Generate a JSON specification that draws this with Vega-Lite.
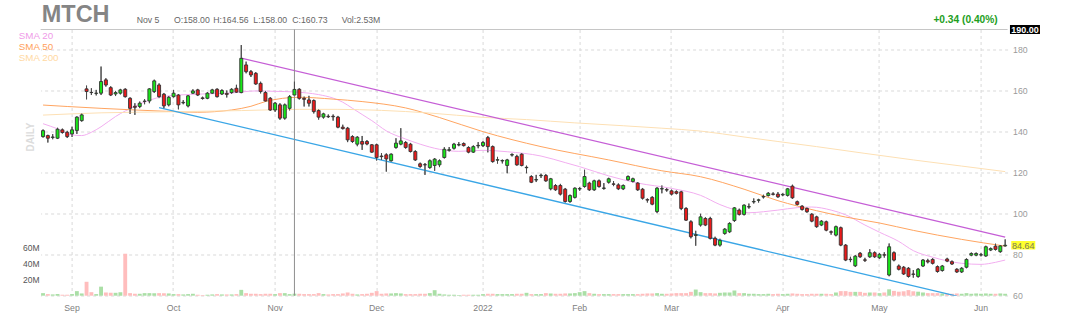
{
  "$schema": "https://vega.github.io/schema/vega-lite/v6.json",
  "autosize": {"type": "none"},
  "padding": {"left": 40.6, "top": 29.5, "right": 72, "bottom": 29},
  "width": 967,
  "height": 266.2,
  "background": "#ffffff",
  "config": {"view": {"stroke": null}, "font": "Liberation Sans", "axis": {"labelOverlap": false}},
  "datasets": {
    "ohlc": [
      {"d":"2021-08-24","o":137.7,"h":141.2,"l":137.2,"c":140.6,"v":3.2},
      {"d":"2021-08-25","o":138.2,"h":138.6,"l":134.8,"c":136.9,"v":2},
      {"d":"2021-08-26","o":137.3,"h":138.9,"l":136.4,"c":137.5,"v":1.6},
      {"d":"2021-08-27","o":136.9,"h":142,"l":136.5,"c":141.3,"v":2},
      {"d":"2021-08-30","o":141,"h":141.6,"l":139.2,"c":139.7,"v":1.2},
      {"d":"2021-08-31","o":139.8,"h":140.5,"l":137,"c":137.7,"v":1.2},
      {"d":"2021-09-01","o":139,"h":142.5,"l":137.5,"c":141,"v":2},
      {"d":"2021-09-02","o":140.7,"h":147.6,"l":139,"c":147.2,"v":5.7},
      {"d":"2021-09-03","o":145.5,"h":149,"l":145,"c":148.3,"v":2.8},
      {"d":"2021-09-07","o":161,"h":162.6,"l":155.9,"c":159.7,"v":17.4},
      {"d":"2021-09-08","o":159.3,"h":161.3,"l":158,"c":159.2,"v":4.4},
      {"d":"2021-09-09","o":158.8,"h":160.5,"l":157.8,"c":158.9,"v":2},
      {"d":"2021-09-10","o":158.9,"h":171.9,"l":158,"c":164.6,"v":11.3},
      {"d":"2021-09-13","o":165.4,"h":166.2,"l":162.1,"c":162.9,"v":4},
      {"d":"2021-09-14","o":161.6,"h":162.3,"l":157.5,"c":158,"v":3.6},
      {"d":"2021-09-15","o":158.5,"h":160,"l":157.5,"c":159.2,"v":3.6},
      {"d":"2021-09-16","o":158.9,"h":161,"l":158.3,"c":160.5,"v":4.4},
      {"d":"2021-09-17","o":160.8,"h":161.3,"l":156.8,"c":157.2,"v":52.5},
      {"d":"2021-09-20","o":156.4,"h":156.9,"l":148.8,"c":151.5,"v":3.2},
      {"d":"2021-09-21","o":152.5,"h":154,"l":148.3,"c":152,"v":2.4},
      {"d":"2021-09-22","o":152.4,"h":154.8,"l":151.6,"c":154,"v":2.4},
      {"d":"2021-09-23","o":154.9,"h":156,"l":153.5,"c":155,"v":3.2},
      {"d":"2021-09-24","o":155.1,"h":161.3,"l":154,"c":161,"v":3.2},
      {"d":"2021-09-27","o":159.7,"h":165.5,"l":159,"c":164.9,"v":3.2},
      {"d":"2021-09-28","o":162.9,"h":163.7,"l":156.5,"c":157.2,"v":3.2},
      {"d":"2021-09-29","o":158.4,"h":159,"l":151.5,"c":152.7,"v":3.2},
      {"d":"2021-09-30","o":153.2,"h":157.5,"l":152.5,"c":156.9,"v":2.8},
      {"d":"2021-10-01","o":157.2,"h":160.5,"l":156.8,"c":158.9,"v":2},
      {"d":"2021-10-04","o":158,"h":158.5,"l":151,"c":153.2,"v":2},
      {"d":"2021-10-05","o":154.2,"h":155.5,"l":153.5,"c":154.4,"v":1.6},
      {"d":"2021-10-06","o":152.7,"h":158,"l":152,"c":157.6,"v":2},
      {"d":"2021-10-07","o":158.9,"h":160.8,"l":158.5,"c":160,"v":2.4},
      {"d":"2021-10-08","o":160.5,"h":161,"l":157.5,"c":158,"v":1.2},
      {"d":"2021-10-11","o":156.6,"h":157.2,"l":155.8,"c":156.3,"v":0.8},
      {"d":"2021-10-12","o":156.4,"h":159.4,"l":156,"c":158.9,"v":1.2},
      {"d":"2021-10-13","o":158.9,"h":161,"l":158.5,"c":160.5,"v":1.6},
      {"d":"2021-10-14","o":160.8,"h":161.3,"l":156.8,"c":157.2,"v":2},
      {"d":"2021-10-15","o":158.5,"h":160.8,"l":158,"c":160.2,"v":1.6},
      {"d":"2021-10-18","o":158.8,"h":160.2,"l":156.8,"c":158.3,"v":1.6},
      {"d":"2021-10-19","o":159.2,"h":161.3,"l":158.6,"c":160.8,"v":1.6},
      {"d":"2021-10-20","o":161.3,"h":163,"l":159,"c":159.4,"v":2},
      {"d":"2021-10-21","o":159.2,"h":182.4,"l":158.9,"c":175.9,"v":7.3},
      {"d":"2021-10-22","o":172.7,"h":174.3,"l":168.6,"c":169.4,"v":3.2},
      {"d":"2021-10-25","o":169.4,"h":170.2,"l":166.8,"c":167.8,"v":2.4},
      {"d":"2021-10-26","o":168.6,"h":169.2,"l":163,"c":163.4,"v":2.4},
      {"d":"2021-10-27","o":163.7,"h":164.5,"l":158.8,"c":159.7,"v":2},
      {"d":"2021-10-28","o":159.2,"h":160,"l":154.8,"c":155.1,"v":2.4},
      {"d":"2021-10-29","o":156.4,"h":157,"l":150.2,"c":150.7,"v":2.4},
      {"d":"2021-11-01","o":150.7,"h":154.6,"l":149.8,"c":154,"v":2},
      {"d":"2021-11-02","o":153.2,"h":154,"l":145.9,"c":146.7,"v":3.2},
      {"d":"2021-11-03","o":146.7,"h":153.8,"l":146,"c":153.2,"v":3.2},
      {"d":"2021-11-04","o":151.5,"h":158,"l":150.5,"c":157.2,"v":2},
      {"d":"2021-11-05","o":158,"h":164.56,"l":158,"c":160.73,"v":2.53},
      {"d":"2021-11-08","o":160.8,"h":161.3,"l":155.8,"c":156.4,"v":2.4},
      {"d":"2021-11-09","o":156.4,"h":157.2,"l":152.4,"c":155.9,"v":2},
      {"d":"2021-11-10","o":155.6,"h":157.6,"l":152.4,"c":154,"v":2},
      {"d":"2021-11-11","o":155.3,"h":155.8,"l":149,"c":149.9,"v":2},
      {"d":"2021-11-12","o":150.4,"h":151,"l":146,"c":147.2,"v":3.2},
      {"d":"2021-11-15","o":147.2,"h":149.3,"l":146.5,"c":148.8,"v":2},
      {"d":"2021-11-16","o":147.6,"h":148.5,"l":146.8,"c":147.4,"v":1.6},
      {"d":"2021-11-17","o":147.6,"h":148.5,"l":145.5,"c":147.4,"v":2},
      {"d":"2021-11-18","o":147.2,"h":147.8,"l":141.8,"c":142.3,"v":2},
      {"d":"2021-11-19","o":142.3,"h":143.5,"l":141.2,"c":141.6,"v":2.8},
      {"d":"2021-11-22","o":141.8,"h":142.4,"l":135,"c":136.1,"v":4},
      {"d":"2021-11-23","o":137.7,"h":138.3,"l":134.6,"c":135.3,"v":2.4},
      {"d":"2021-11-24","o":134,"h":137.9,"l":133,"c":137.4,"v":1.6},
      {"d":"2021-11-26","o":135.3,"h":138,"l":131.2,"c":134,"v":2},
      {"d":"2021-11-29","o":135.3,"h":136,"l":133.5,"c":134.1,"v":2.4},
      {"d":"2021-11-30","o":133.7,"h":134,"l":129.8,"c":130.1,"v":3.6},
      {"d":"2021-12-01","o":133.7,"h":134.2,"l":126,"c":127.5,"v":5.7},
      {"d":"2021-12-02","o":128.2,"h":129.6,"l":126.3,"c":127.9,"v":2.4},
      {"d":"2021-12-03","o":128.8,"h":129.5,"l":120.6,"c":126.8,"v":2.8},
      {"d":"2021-12-06","o":125.9,"h":129.5,"l":125.5,"c":129.1,"v":2.8},
      {"d":"2021-12-07","o":132.4,"h":136.9,"l":131.8,"c":134.5,"v":3.2},
      {"d":"2021-12-08","o":134,"h":141.8,"l":133.5,"c":135.6,"v":2.8},
      {"d":"2021-12-09","o":134.8,"h":135.5,"l":131.8,"c":132.4,"v":2},
      {"d":"2021-12-10","o":134,"h":134.6,"l":130,"c":130.4,"v":2},
      {"d":"2021-12-13","o":130.4,"h":131,"l":125.8,"c":126.3,"v":2},
      {"d":"2021-12-14","o":124.4,"h":125,"l":122.5,"c":123.1,"v":2.4},
      {"d":"2021-12-15","o":124,"h":124.8,"l":119,"c":123.9,"v":2.4},
      {"d":"2021-12-16","o":122.6,"h":126.5,"l":122,"c":125.9,"v":3.2},
      {"d":"2021-12-17","o":123.6,"h":127.2,"l":121,"c":126.7,"v":6.9},
      {"d":"2021-12-20","o":123.9,"h":126.5,"l":122.8,"c":125.9,"v":2.4},
      {"d":"2021-12-21","o":127.5,"h":132.5,"l":127,"c":131.5,"v":1.6},
      {"d":"2021-12-22","o":131,"h":132.6,"l":130.4,"c":131.3,"v":1.2},
      {"d":"2021-12-23","o":132,"h":134.6,"l":131.4,"c":134,"v":1.2},
      {"d":"2021-12-27","o":133.6,"h":135,"l":133,"c":133.8,"v":0.8},
      {"d":"2021-12-28","o":134.3,"h":134.8,"l":132.9,"c":133.3,"v":1.2},
      {"d":"2021-12-29","o":132.4,"h":132.9,"l":129.6,"c":130.1,"v":1.2},
      {"d":"2021-12-30","o":130.1,"h":133.4,"l":129.7,"c":132.8,"v":1.2},
      {"d":"2021-12-31","o":133.2,"h":135,"l":132,"c":133.4,"v":1.2},
      {"d":"2022-01-03","o":133.3,"h":135.5,"l":132.6,"c":134.8,"v":2},
      {"d":"2022-01-04","o":137.2,"h":138,"l":130,"c":132.8,"v":2.4},
      {"d":"2022-01-05","o":132.8,"h":133.3,"l":125,"c":125.5,"v":2.4},
      {"d":"2022-01-06","o":126.2,"h":127.8,"l":124.5,"c":126.4,"v":2},
      {"d":"2022-01-07","o":125.8,"h":126.5,"l":124.6,"c":126,"v":2},
      {"d":"2022-01-10","o":123.6,"h":126.8,"l":119.8,"c":126.3,"v":2},
      {"d":"2022-01-11","o":128.7,"h":129.5,"l":128,"c":128.9,"v":2},
      {"d":"2022-01-12","o":128,"h":128.8,"l":123.5,"c":123.9,"v":2.4},
      {"d":"2022-01-13","o":129.1,"h":129.6,"l":123.2,"c":123.6,"v":2.4},
      {"d":"2022-01-14","o":122.5,"h":123.5,"l":119.8,"c":122.7,"v":3.6},
      {"d":"2022-01-18","o":118.2,"h":118.8,"l":115,"c":115.4,"v":2},
      {"d":"2022-01-19","o":116.5,"h":119,"l":115.5,"c":116.7,"v":2},
      {"d":"2022-01-20","o":118.6,"h":119.6,"l":117.5,"c":118.8,"v":2},
      {"d":"2022-01-21","o":118.7,"h":119.4,"l":115.6,"c":116.1,"v":3.2},
      {"d":"2022-01-24","o":112.2,"h":117.5,"l":111.5,"c":117.1,"v":2.8},
      {"d":"2022-01-25","o":113.8,"h":114.5,"l":111.2,"c":111.7,"v":2.4},
      {"d":"2022-01-26","o":113.8,"h":114.6,"l":109,"c":109.6,"v":2.4},
      {"d":"2022-01-27","o":112,"h":112.6,"l":105.5,"c":106,"v":2.8},
      {"d":"2022-01-28","o":106,"h":109.4,"l":105.4,"c":108.9,"v":2.8},
      {"d":"2022-01-31","o":108,"h":112.9,"l":107.5,"c":112.5,"v":3.2},
      {"d":"2022-02-01","o":112.1,"h":113,"l":111.2,"c":112.3,"v":4.4},
      {"d":"2022-02-02","o":113.3,"h":121.5,"l":112.8,"c":118.2,"v":5.7},
      {"d":"2022-02-03","o":115,"h":115.6,"l":111.2,"c":111.7,"v":3.2},
      {"d":"2022-02-04","o":111.7,"h":116.6,"l":111.2,"c":116.1,"v":2.4},
      {"d":"2022-02-07","o":116.1,"h":116.7,"l":112.8,"c":113.3,"v":2},
      {"d":"2022-02-08","o":112.4,"h":115,"l":111.8,"c":112.6,"v":2},
      {"d":"2022-02-09","o":115.4,"h":117.6,"l":114.8,"c":117.1,"v":2},
      {"d":"2022-02-10","o":114.6,"h":116,"l":113.5,"c":114.4,"v":2},
      {"d":"2022-02-11","o":114.1,"h":114.8,"l":111.6,"c":112.2,"v":2},
      {"d":"2022-02-14","o":112.2,"h":114.3,"l":111.6,"c":113.8,"v":2},
      {"d":"2022-02-15","o":116.6,"h":118.7,"l":116.1,"c":118.2,"v":2},
      {"d":"2022-02-16","o":115.8,"h":117.6,"l":115.3,"c":117.1,"v":2},
      {"d":"2022-02-17","o":115,"h":115.5,"l":111.2,"c":111.7,"v":2},
      {"d":"2022-02-18","o":112,"h":112.6,"l":107,"c":107.6,"v":2.4},
      {"d":"2022-02-22","o":106.9,"h":107.5,"l":105.5,"c":106.7,"v":2.8},
      {"d":"2022-02-23","o":108,"h":108.6,"l":104.2,"c":104.7,"v":2.8},
      {"d":"2022-02-24","o":101.1,"h":113,"l":100.3,"c":112.5,"v":3.2},
      {"d":"2022-02-25","o":112.1,"h":113.8,"l":110,"c":112.3,"v":2.4},
      {"d":"2022-02-28","o":111.8,"h":112.5,"l":110.8,"c":111.6,"v":2.4},
      {"d":"2022-03-01","o":111.2,"h":111.8,"l":109,"c":109.6,"v":2.8},
      {"d":"2022-03-02","o":110.8,"h":111.4,"l":109.5,"c":110,"v":3.2},
      {"d":"2022-03-03","o":110.7,"h":111.2,"l":101.8,"c":102.6,"v":3.2},
      {"d":"2022-03-04","o":102.6,"h":103.2,"l":96.5,"c":96.9,"v":3.2},
      {"d":"2022-03-07","o":96.1,"h":96.8,"l":88,"c":88.8,"v":4.8},
      {"d":"2022-03-08","o":89.4,"h":91.7,"l":84.4,"c":89.8,"v":7.7},
      {"d":"2022-03-09","o":94.5,"h":100,"l":93.8,"c":98.5,"v":4.4},
      {"d":"2022-03-10","o":97.7,"h":98.3,"l":94,"c":94.5,"v":3.2},
      {"d":"2022-03-11","o":97.7,"h":98.5,"l":87.5,"c":88,"v":3.2},
      {"d":"2022-03-14","o":88,"h":88.8,"l":84.2,"c":84.7,"v":2.8},
      {"d":"2022-03-15","o":84.7,"h":87.8,"l":84,"c":87,"v":3.6},
      {"d":"2022-03-16","o":90.4,"h":93,"l":89.8,"c":92.5,"v":4},
      {"d":"2022-03-17","o":91.2,"h":95.8,"l":90.6,"c":95.3,"v":4},
      {"d":"2022-03-18","o":96.7,"h":103.3,"l":96,"c":102.9,"v":6.5},
      {"d":"2022-03-21","o":101.8,"h":102.5,"l":99.2,"c":99.7,"v":3.2},
      {"d":"2022-03-22","o":99.7,"h":104.6,"l":99.2,"c":104.2,"v":3.2},
      {"d":"2022-03-23","o":103.3,"h":105,"l":102.5,"c":103.5,"v":2.4},
      {"d":"2022-03-24","o":105.8,"h":107.5,"l":105,"c":106,"v":2.4},
      {"d":"2022-03-25","o":106.6,"h":107.3,"l":105.5,"c":106.8,"v":2},
      {"d":"2022-03-28","o":108.2,"h":109.3,"l":107.5,"c":108.4,"v":2},
      {"d":"2022-03-29","o":108.9,"h":110.6,"l":108.5,"c":110,"v":2.4},
      {"d":"2022-03-30","o":109.7,"h":110.5,"l":109,"c":109.5,"v":2},
      {"d":"2022-03-31","o":109.6,"h":110.6,"l":107.8,"c":108.3,"v":2.4},
      {"d":"2022-04-01","o":109.2,"h":110,"l":108.6,"c":109.5,"v":2},
      {"d":"2022-04-04","o":109,"h":112.6,"l":108.5,"c":112.2,"v":2.4},
      {"d":"2022-04-05","o":113.5,"h":114.2,"l":107.3,"c":107.8,"v":2.8},
      {"d":"2022-04-06","o":105.9,"h":106.4,"l":104.1,"c":104.6,"v":2.4},
      {"d":"2022-04-07","o":103.7,"h":104.2,"l":101.6,"c":102.1,"v":2},
      {"d":"2022-04-08","o":102.6,"h":103.1,"l":100.5,"c":101,"v":2},
      {"d":"2022-04-11","o":99.8,"h":100.3,"l":95.9,"c":96.4,"v":2.4},
      {"d":"2022-04-12","o":98.5,"h":99,"l":93.2,"c":93.7,"v":2.4},
      {"d":"2022-04-13","o":94.5,"h":96.9,"l":94,"c":96.4,"v":2.4},
      {"d":"2022-04-14","o":96.1,"h":96.6,"l":91.5,"c":92,"v":2.4},
      {"d":"2022-04-18","o":91.2,"h":91.8,"l":89.8,"c":91,"v":2},
      {"d":"2022-04-19","o":89.6,"h":94.2,"l":89,"c":93.7,"v":4},
      {"d":"2022-04-20","o":93.2,"h":93.7,"l":84.2,"c":84.7,"v":5.7},
      {"d":"2022-04-21","o":84.7,"h":85.2,"l":76.9,"c":77.4,"v":5.7},
      {"d":"2022-04-22","o":77.8,"h":79,"l":76.4,"c":77.6,"v":4.8},
      {"d":"2022-04-25","o":74.6,"h":79.8,"l":74,"c":79.3,"v":4.8},
      {"d":"2022-04-26","o":80.7,"h":81.3,"l":78.5,"c":79,"v":4.8},
      {"d":"2022-04-27","o":77.5,"h":78.5,"l":76.5,"c":77.3,"v":3.6},
      {"d":"2022-04-28","o":79,"h":82.7,"l":78.5,"c":81,"v":4},
      {"d":"2022-04-29","o":81,"h":81.6,"l":78.5,"c":79,"v":4},
      {"d":"2022-05-02","o":78.5,"h":80.8,"l":78,"c":80.2,"v":3.2},
      {"d":"2022-05-03","o":80,"h":81.2,"l":78.6,"c":79.8,"v":4},
      {"d":"2022-05-04","o":70.1,"h":85.5,"l":69.5,"c":83.9,"v":8},
      {"d":"2022-05-05","o":81,"h":81.6,"l":76.8,"c":77.4,"v":6},
      {"d":"2022-05-06","o":74.5,"h":75.2,"l":72.4,"c":72.9,"v":5},
      {"d":"2022-05-09","o":73.9,"h":74.5,"l":70.1,"c":70.6,"v":5.5},
      {"d":"2022-05-10","o":73.4,"h":74,"l":68.9,"c":69.4,"v":7},
      {"d":"2022-05-11","o":70.6,"h":72.5,"l":68.8,"c":70.4,"v":5.5},
      {"d":"2022-05-12","o":69.4,"h":73.5,"l":68.8,"c":72.9,"v":5},
      {"d":"2022-05-13","o":74.5,"h":77.9,"l":74,"c":77.4,"v":4},
      {"d":"2022-05-16","o":77.1,"h":78,"l":75.8,"c":76.5,"v":3.2},
      {"d":"2022-05-17","o":77.7,"h":78.3,"l":75.3,"c":75.8,"v":3.2},
      {"d":"2022-05-18","o":74.2,"h":74.7,"l":71.3,"c":71.8,"v":3.2},
      {"d":"2022-05-19","o":72.3,"h":75,"l":71.8,"c":74.5,"v":2.8},
      {"d":"2022-05-20","o":77.9,"h":78.5,"l":76.4,"c":76.9,"v":2.8},
      {"d":"2022-05-23","o":76.6,"h":77.2,"l":75,"c":75.5,"v":2.4},
      {"d":"2022-05-24","o":72.9,"h":73.4,"l":71.1,"c":71.6,"v":2.8},
      {"d":"2022-05-25","o":71.6,"h":73.9,"l":71.1,"c":73.4,"v":2.4},
      {"d":"2022-05-26","o":73.9,"h":78.2,"l":73.4,"c":77.7,"v":3.2},
      {"d":"2022-05-27","o":79.8,"h":81.1,"l":79.3,"c":80.6,"v":2.4},
      {"d":"2022-05-31","o":79.8,"h":81.1,"l":79.3,"c":80.6,"v":2.8},
      {"d":"2022-06-01","o":79.9,"h":80.8,"l":79.2,"c":80,"v":2.4},
      {"d":"2022-06-02","o":79.4,"h":84.4,"l":79,"c":83.9,"v":2.8},
      {"d":"2022-06-03","o":82.3,"h":83.5,"l":81.8,"c":83,"v":2.4},
      {"d":"2022-06-06","o":84.2,"h":85.4,"l":82.1,"c":82.6,"v":2.4},
      {"d":"2022-06-07","o":81.5,"h":84.7,"l":81,"c":84.3,"v":2.8},
      {"d":"2022-06-08","o":84.3,"h":87.5,"l":84,"c":84.64,"v":2.4}
    ],
    "sma": [
      {"d":"2021-08-24","k":"SMA 20","p":144},{"d":"2021-08-27","k":"SMA 20","p":141.5},{"d":"2021-09-01","k":"SMA 20","p":138.5},{"d":"2021-09-03","k":"SMA 20","p":138.2},{"d":"2021-09-08","k":"SMA 20","p":139.8},{"d":"2021-09-10","k":"SMA 20","p":142.5},{"d":"2021-09-15","k":"SMA 20","p":147.5},{"d":"2021-09-21","k":"SMA 20","p":152.5},{"d":"2021-09-24","k":"SMA 20","p":155.5},{"d":"2021-09-29","k":"SMA 20","p":157.3},{"d":"2021-10-04","k":"SMA 20","p":158},{"d":"2021-10-11","k":"SMA 20","p":158.5},{"d":"2021-10-19","k":"SMA 20","p":159},{"d":"2021-10-26","k":"SMA 20","p":160},{"d":"2021-11-01","k":"SMA 20","p":159.8},{"d":"2021-11-05","k":"SMA 20","p":159.5},{"d":"2021-11-12","k":"SMA 20","p":158.2},{"d":"2021-11-17","k":"SMA 20","p":156.5},{"d":"2021-11-19","k":"SMA 20","p":154.5},{"d":"2021-11-23","k":"SMA 20","p":151.5},{"d":"2021-11-26","k":"SMA 20","p":148.5},{"d":"2021-11-30","k":"SMA 20","p":145.5},{"d":"2021-12-03","k":"SMA 20","p":140.5},{"d":"2021-12-09","k":"SMA 20","p":136.5},{"d":"2021-12-14","k":"SMA 20","p":134},{"d":"2021-12-20","k":"SMA 20","p":131.5},{"d":"2021-12-27","k":"SMA 20","p":130.5},{"d":"2022-01-03","k":"SMA 20","p":131},{"d":"2022-01-10","k":"SMA 20","p":130.3},{"d":"2022-01-20","k":"SMA 20","p":128.2},{"d":"2022-01-27","k":"SMA 20","p":125},{"d":"2022-02-01","k":"SMA 20","p":123},{"d":"2022-02-09","k":"SMA 20","p":118.5},{"d":"2022-02-17","k":"SMA 20","p":115},{"d":"2022-03-01","k":"SMA 20","p":112.4},{"d":"2022-03-09","k":"SMA 20","p":109},{"d":"2022-03-15","k":"SMA 20","p":104.5},{"d":"2022-03-18","k":"SMA 20","p":102},{"d":"2022-03-23","k":"SMA 20","p":100.5},{"d":"2022-03-28","k":"SMA 20","p":101},{"d":"2022-03-31","k":"SMA 20","p":101.8},{"d":"2022-04-06","k":"SMA 20","p":103},{"d":"2022-04-11","k":"SMA 20","p":103.3},{"d":"2022-04-18","k":"SMA 20","p":101.8},{"d":"2022-04-21","k":"SMA 20","p":99.5},{"d":"2022-04-27","k":"SMA 20","p":94.5},{"d":"2022-05-02","k":"SMA 20","p":91},{"d":"2022-05-06","k":"SMA 20","p":86.5},{"d":"2022-05-11","k":"SMA 20","p":82},{"d":"2022-05-17","k":"SMA 20","p":78.8},{"d":"2022-05-20","k":"SMA 20","p":77},{"d":"2022-05-25","k":"SMA 20","p":75.8},{"d":"2022-06-01","k":"SMA 20","p":75.3},{"d":"2022-06-06","k":"SMA 20","p":76.3},{"d":"2022-06-08","k":"SMA 20","p":77.4},
      {"d":"2021-08-24","k":"SMA 50","p":153.1},{"d":"2021-08-31","k":"SMA 50","p":152.4},{"d":"2021-09-10","k":"SMA 50","p":151.5},{"d":"2021-09-21","k":"SMA 50","p":150.7},{"d":"2021-09-30","k":"SMA 50","p":150},{"d":"2021-10-08","k":"SMA 50","p":149.6},{"d":"2021-10-19","k":"SMA 50","p":150.7},{"d":"2021-10-25","k":"SMA 50","p":152.5},{"d":"2021-10-28","k":"SMA 50","p":154.8},{"d":"2021-11-08","k":"SMA 50","p":156.9},{"d":"2021-11-17","k":"SMA 50","p":156},{"d":"2021-11-26","k":"SMA 50","p":154.8},{"d":"2021-12-09","k":"SMA 50","p":151.7},{"d":"2021-12-20","k":"SMA 50","p":147},{"d":"2022-01-03","k":"SMA 50","p":140.1},{"d":"2022-01-20","k":"SMA 50","p":132.8},{"d":"2022-02-09","k":"SMA 50","p":126.3},{"d":"2022-02-25","k":"SMA 50","p":121},{"d":"2022-03-09","k":"SMA 50","p":118.1},{"d":"2022-03-22","k":"SMA 50","p":112},{"d":"2022-03-31","k":"SMA 50","p":106.4},{"d":"2022-04-12","k":"SMA 50","p":101.5},{"d":"2022-04-21","k":"SMA 50","p":98.4},{"d":"2022-05-02","k":"SMA 50","p":95.5},{"d":"2022-05-11","k":"SMA 50","p":91.9},{"d":"2022-05-25","k":"SMA 50","p":87.5},{"d":"2022-06-08","k":"SMA 50","p":84.2},
      {"d":"2021-08-24","k":"SMA 200","p":148.2},{"d":"2021-09-10","k":"SMA 200","p":149.3},{"d":"2021-09-30","k":"SMA 200","p":149.8},{"d":"2021-10-21","k":"SMA 200","p":150.4},{"d":"2021-11-08","k":"SMA 200","p":151},{"d":"2021-11-18","k":"SMA 200","p":151},{"d":"2021-12-02","k":"SMA 200","p":150.5},{"d":"2021-12-16","k":"SMA 200","p":149.2},{"d":"2022-01-03","k":"SMA 200","p":147.1},{"d":"2022-01-14","k":"SMA 200","p":146},{"d":"2022-01-31","k":"SMA 200","p":144.4},{"d":"2022-02-14","k":"SMA 200","p":143},{"d":"2022-02-25","k":"SMA 200","p":141.8},{"d":"2022-03-09","k":"SMA 200","p":140.4},{"d":"2022-03-22","k":"SMA 200","p":137.5},{"d":"2022-03-31","k":"SMA 200","p":135.3},{"d":"2022-04-12","k":"SMA 200","p":132.8},{"d":"2022-04-27","k":"SMA 200","p":129.5},{"d":"2022-05-11","k":"SMA 200","p":126.3},{"d":"2022-05-25","k":"SMA 200","p":123.3},{"d":"2022-06-08","k":"SMA 200","p":120.6}
    ],
    "trend": [
      {"d":"2021-10-21","p":176,"g":"upper"},{"d":"2022-06-08","p":88.6,"g":"upper"},
      {"d":"2021-09-28","p":151.9,"g":"lower"},{"d":"2022-05-24","p":59.8,"g":"lower"}
    ]
  },
  "layer": [
    {
      "data": {"name": "ohlc"},
      "mark": {"type": "bar", "width": {"band": 0.8}},
      "encoding": {
        "x": {"field": "d", "type": "ordinal", "sort": "ascending",
          "scale": {"type": "band", "paddingInner": 0, "paddingOuter": 0},
          "axis": {"title": null, "orient": "bottom", "bandPosition": 0.5,
            "values": ["2021-09-01","2021-10-01","2021-11-01","2021-12-01","2022-01-03","2022-02-01","2022-03-01","2022-04-01","2022-05-02","2022-06-01"],
            "labelExpr": "datum.value == '2022-01-03' ? '2022' : ['Jan','Feb','Mar','Apr','May','Jun','Jul','Aug','Sep','Oct','Nov','Dec'][toNumber(slice(datum.value,5,7))-1]",
            "labelAngle": 0, "labelFontSize": 8.7, "labelColor": "#808080", "labelPadding": 8, "labelOverlap": false,
            "ticks": false, "domain": false, "grid": true, "gridColor": "#d9d9d9", "gridDash": [3,3], "gridWidth": 1}},
        "y": {"field": "v", "type": "quantitative", "scale": {"domain": [0, 333], "nice": false, "zero": true},
          "axis": {"orient": "left", "title": null, "values": [20, 40, 60], "labelExpr": "datum.value + 'M'", "labelOverlap": false,
            "grid": false, "ticks": false, "domain": false, "labelColor": "#555555", "labelFontSize": 8.5, "labelPadding": 1.5}},
        "color": {"condition": {"test": "datum.c >= datum.o", "value": "#aadfa6"}, "value": "#ffbdbd"}
      }
    },
    {
      "layer": [
        {
          "data": {"name": "ohlc"},
          "mark": {"type": "rule", "color": "#4a4a4a", "strokeWidth": 1},
          "encoding": {
            "x": {"field": "d", "type": "ordinal", "bandPosition": 0.5},
            "y": {"field": "l", "type": "quantitative", "scale": {"domain": [60, 190], "nice": false, "zero": false},
              "axis": {"orient": "right", "title": null, "values": [60, 80, 100, 120, 140, 160, 180],
                "labelExpr": "format(datum.value, 'd')", "labelOverlap": false, "labelBound": false, "labelSeparation": 0,
                "grid": true, "gridColor": "#d9d9d9", "gridDash": [3, 3],
                "ticks": false, "domain": false, "labelColor": "#9a9a9a", "labelFontSize": 8.7, "labelPadding": 5}},
            "y2": {"field": "h"}
          }
        },
        {
          "data": {"values": [{}]},
          "mark": {"type": "rule", "color": "#c6c6c6", "strokeWidth": 1},
          "encoding": {"y": {"datum": 190, "type": "quantitative"}}
        },
        {
          "data": {"name": "sma"},
          "mark": {"type": "line", "strokeWidth": 1, "interpolate": "monotone"},
          "encoding": {
            "x": {"field": "d", "type": "ordinal", "bandPosition": 0.5},
            "y": {"field": "p", "type": "quantitative"},
            "color": {"field": "k", "type": "nominal",
              "scale": {"domain": ["SMA 20", "SMA 50", "SMA 200"], "range": ["#f2aef0", "#ffa560", "#fde0b4"]},
              "legend": {"title": null, "orient": "none", "legendX": -31.6, "legendY": 1.8, "padding": 0,
                "symbolSize": 0, "symbolOpacity": 0, "symbolStrokeWidth": 0, "labelOffset": 0,
                "labelFontSize": 9.8, "rowPadding": 0,
                "encode": {"labels": {"update": {"fill": {"signal": "datum.label == 'SMA 20' ? '#ef9be8' : datum.label == 'SMA 50' ? '#ff9f5c' : '#ffd9a3'"}}}}}}
          }
        },
        {
          "data": {"name": "trend"},
          "mark": {"type": "line", "strokeWidth": 1.3, "clip": true},
          "encoding": {
            "x": {"field": "d", "type": "ordinal", "bandPosition": 0.5},
            "y": {"field": "p", "type": "quantitative"},
            "detail": {"field": "g"},
            "stroke": {"field": "g", "type": "nominal", "scale": {"domain": ["upper", "lower"], "range": ["#c55ed6", "#3aa6e6"]}, "legend": null}
          }
        },
        {
          "data": {"values": [{}]},
          "mark": {"type": "rule", "color": "#8f8f8f", "strokeWidth": 1},
          "encoding": {"x": {"datum": "2021-11-05", "type": "ordinal", "bandPosition": 0.5}}
        },
        {
          "data": {"name": "ohlc"},
          "mark": {"type": "rule", "color": "#4a4a4a", "strokeWidth": 1},
          "encoding": {
            "x": {"field": "d", "type": "ordinal", "bandPosition": 0.5},
            "y": {"field": "l", "type": "quantitative"},
            "y2": {"field": "h"}
          }
        },
        {
          "data": {"name": "ohlc"},
          "mark": {"type": "bar", "width": {"band": 0.62}, "stroke": "#333333", "strokeWidth": 0.9},
          "encoding": {
            "x": {"field": "d", "type": "ordinal"},
            "y": {"field": "o", "type": "quantitative"},
            "y2": {"field": "c"},
            "fill": {"condition": {"test": "datum.c >= datum.o", "value": "#18e818"}, "value": "#ec1a1a"}
          }
        },
        {
          "data": {"values": [{}]},
          "mark": {"type": "text", "text": "MTCH", "align": "left", "baseline": "alphabetic", "fontSize": 23.5, "fontWeight": "bold", "fill": "#858585", "dx": -1.3, "dy": -7.8},
          "encoding": {"x": {"datum": "2021-08-24", "type": "ordinal", "bandPosition": 0.5}, "y": {"datum": 190, "type": "quantitative"}}
        },
        {
          "data": {"values": [{}]},
          "mark": {"type": "text", "text": "Nov 5", "align": "left", "baseline": "alphabetic", "fontSize": 8.7, "fill": "#666666", "dx": 93.7, "dy": -6.8},
          "encoding": {"x": {"datum": "2021-08-24", "type": "ordinal", "bandPosition": 0.5}, "y": {"datum": 190, "type": "quantitative"}}
        },
        {
          "data": {"values": [{}]},
          "mark": {"type": "text", "text": "O:158.00", "align": "left", "baseline": "alphabetic", "fontSize": 8.7, "fill": "#666666", "dx": 131, "dy": -6.8},
          "encoding": {"x": {"datum": "2021-08-24", "type": "ordinal", "bandPosition": 0.5}, "y": {"datum": 190, "type": "quantitative"}}
        },
        {
          "data": {"values": [{}]},
          "mark": {"type": "text", "text": "H:164.56", "align": "left", "baseline": "alphabetic", "fontSize": 8.7, "fill": "#666666", "dx": 170.3, "dy": -6.8},
          "encoding": {"x": {"datum": "2021-08-24", "type": "ordinal", "bandPosition": 0.5}, "y": {"datum": 190, "type": "quantitative"}}
        },
        {
          "data": {"values": [{}]},
          "mark": {"type": "text", "text": "L:158.00", "align": "left", "baseline": "alphabetic", "fontSize": 8.7, "fill": "#666666", "dx": 210.3, "dy": -6.8},
          "encoding": {"x": {"datum": "2021-08-24", "type": "ordinal", "bandPosition": 0.5}, "y": {"datum": 190, "type": "quantitative"}}
        },
        {
          "data": {"values": [{}]},
          "mark": {"type": "text", "text": "C:160.73", "align": "left", "baseline": "alphabetic", "fontSize": 8.7, "fill": "#666666", "dx": 249.3, "dy": -6.8},
          "encoding": {"x": {"datum": "2021-08-24", "type": "ordinal", "bandPosition": 0.5}, "y": {"datum": 190, "type": "quantitative"}}
        },
        {
          "data": {"values": [{}]},
          "mark": {"type": "text", "text": "Vol:2.53M", "align": "left", "baseline": "alphabetic", "fontSize": 8.7, "fill": "#666666", "dx": 298.7, "dy": -6.8},
          "encoding": {"x": {"datum": "2021-08-24", "type": "ordinal", "bandPosition": 0.5}, "y": {"datum": 190, "type": "quantitative"}}
        },
        {
          "data": {"values": [{}]},
          "mark": {"type": "text", "text": "+0.34 (0.40%)", "align": "right", "baseline": "alphabetic", "fontSize": 10.2, "fontWeight": "bold", "fill": "#1d9e1d", "dx": -7.5, "dy": -6.8},
          "encoding": {"x": {"datum": "2022-06-08", "type": "ordinal", "bandPosition": 0.5}, "y": {"datum": 190, "type": "quantitative"}}
        },
        {
          "data": {"values": [{}]},
          "mark": {"type": "text", "text": "DAILY", "align": "center", "baseline": "middle", "angle": 270, "fontSize": 10, "fontWeight": "bold", "fill": "#dcdcdc", "xOffset": -12},
          "encoding": {"x": {"datum": "2021-08-24", "type": "ordinal", "bandPosition": 0.5}, "y": {"datum": 137.5, "type": "quantitative"}}
        },
        {
          "data": {"values": [{}]},
          "mark": {"type": "point", "shape": "M-1,-0.3L1,-0.3L1,0.3L-1,0.3Z", "size": 900, "filled": true, "fill": "#000000", "opacity": 1, "strokeWidth": 0, "xOffset": 19.8},
          "encoding": {"x": {"datum": "2022-06-08", "type": "ordinal", "bandPosition": 0.5}, "y": {"datum": 190, "type": "quantitative"}}
        },
        {
          "data": {"values": [{}]},
          "mark": {"type": "text", "text": "190.00", "align": "center", "baseline": "middle", "fontSize": 9, "fontWeight": "bold", "fill": "#ffffff", "dx": 19.8, "dy": 0.3},
          "encoding": {"x": {"datum": "2022-06-08", "type": "ordinal", "bandPosition": 0.5}, "y": {"datum": 190, "type": "quantitative"}}
        },
        {
          "data": {"values": [{}]},
          "mark": {"type": "point", "shape": "M-1,-0.354L1,-0.354L1,0.354L-1,0.354Z", "size": 576, "filled": true, "fill": "#ffff2e", "opacity": 1, "strokeWidth": 0, "xOffset": 18.1},
          "encoding": {"x": {"datum": "2022-06-08", "type": "ordinal", "bandPosition": 0.5}, "y": {"datum": 84.64, "type": "quantitative"}}
        },
        {
          "data": {"values": [{}]},
          "mark": {"type": "text", "text": "84.64", "align": "center", "baseline": "middle", "fontSize": 9, "fill": "#7a7a5a", "dx": 18.1, "dy": 0.3},
          "encoding": {"x": {"datum": "2022-06-08", "type": "ordinal", "bandPosition": 0.5}, "y": {"datum": 84.64, "type": "quantitative"}}
        }
      ]
    }
  ],
  "resolve": {"scale": {"y": "independent"}, "axis": {"y": "independent"}}
}
